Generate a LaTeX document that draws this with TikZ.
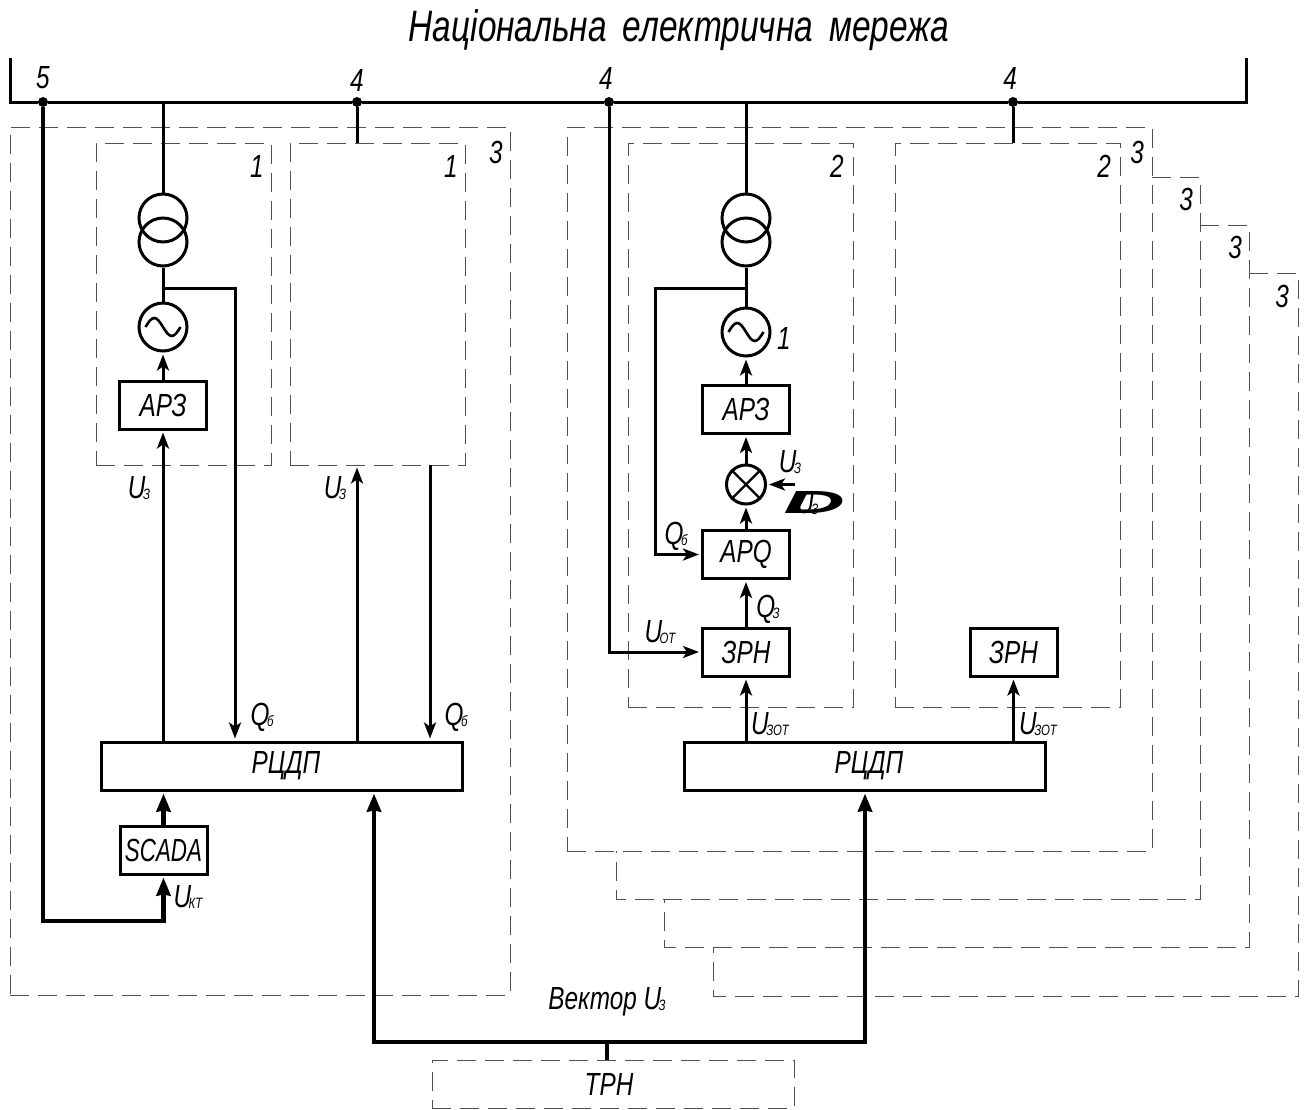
\documentclass[tikz,border=0pt]{standalone}
\usepackage{fontspec}
\usepackage{tikz}
\usetikzlibrary{arrows.meta}
\setmainfont{Liberation Sans}[FakeStretch=0.76]
\definecolor{framegray}{HTML}{505050}
\newcommand{\lblsub}[2]{#1\kern-2.5pt{\fontsize{15}{15}\selectfont\raisebox{-1pt}{#2}}}
\tikzset{
  blockbox/.style={draw, line width=3pt, minimum width=87pt, minimum height=48pt, inner sep=0pt,
    font=\fontsize{32}{32}\selectfont\itshape},
  widebox/.style={blockbox, minimum width=361pt},
  framebox/.style={draw=framegray, line width=1pt, dash pattern=on 19pt off 9pt},
  circ/.style={draw, circle, line width=3pt, minimum size=#1, inner sep=0pt},
  wire/.style={line width=3pt},
  sig/.style={wire, -{Stealth[length=16pt,width=12pt,inset=4pt]}, shorten >=2pt},
  fatsig/.style={line width=4.8pt, -{Stealth[length=18pt,width=14pt,inset=1pt]}, shorten >=2pt},
  dot/.style={circle, fill, inner sep=0pt, minimum size=10pt},
  lbl/.style={inner sep=0pt, font=\fontsize{32}{32}\selectfont\itshape}
}
\begin{document}
\begin{tikzpicture}[x=1pt,y=-1pt]
  \useasboundingbox (0,0) rectangle (1306,1109);
  % title and bus
  \node[lbl, font=\fontsize{44}{44}\selectfont\itshape] (title) at (679,30) {Національна\hspace{7pt} електрична\hspace{7pt} мережа};
  \coordinate (busleft) at (10,58);
  \coordinate (busright) at (1246,58);
  \node[dot] (tapfive) at (43,102) {};
  \node[dot] (tapa) at (357,102) {};
  \node[dot] (tapb) at (609,102) {};
  \node[dot] (tapc) at (1013,102) {};
  \draw[wire] (busleft) |- (tapfive) -- (tapa) -- (tapb) -- (tapc) -| (busright);
  \node[lbl] (lblfive) at (43,78) {5};
  \node[lbl] (lbla) at (357,80) {4};
  \node[lbl] (lblb) at (606,78) {4};
  \node[lbl] (lblc) at (1010,78) {4};
  % dashed frames
  \node[framebox, minimum width=500pt, minimum height=868pt] (plantA) at (260,561) {};
  \node[framebox, minimum width=175pt, minimum height=322pt] (unitA) at (183.5,304) {};
  \node[framebox, minimum width=175pt, minimum height=322pt] (unitB) at (377.5,304) {};
  \node[framebox, minimum width=585pt, minimum height=724pt] (plantB) at (859.5,489) {};
  \node[framebox, minimum width=225pt, minimum height=564pt] (unitC) at (740.5,425) {};
  \node[framebox, minimum width=225pt, minimum height=564pt] (unitD) at (1007.5,425) {};
  \draw[framebox] (1152,177) -- (1200,177) -- (1200,899) -- (616,899) -- (616,851);
  \draw[framebox] (1200,225) -- (1249,225) -- (1249,947) -- (664,947) -- (664,899);
  \draw[framebox] (1249,273) -- (1298,273) -- (1298,996) -- (713,996) -- (713,947);
  \node[lbl] at (257,166) {1};
  \node[lbl] at (451,166) {1};
  \node[lbl] at (496,152) {3};
  \node[lbl] at (837,166) {2};
  \node[lbl] at (1104,166) {2};
  \node[lbl] at (1137,152) {3};
  \node[lbl] at (1186,199) {3};
  \node[lbl] at (1235,247) {3};
  \node[lbl] at (1282,296) {3};
  % left plant
  \node[circ=48pt] (trAup) at (163,218) {};
  \node[circ=48pt] (trAlow) at (163,242) {};
  \node[circ=48pt] (genA) at (163,327) {};
  \draw[line width=2.6pt] (145.5,327) sin (154.25,318) cos (163,327) sin (171.75,336) cos (180.5,327);
  \node[blockbox] (arzA) at (163,405) {АРЗ};
  \node[widebox] (rcdpA) at (282,766) {\hspace*{8pt}РЦДП};
  \node[blockbox] (scada) at (163.5,850) {\scalebox{.92}[1]{SCADA}};
  \coordinate (fbA) at (235,288);
  \coordinate (fbB) at (430,465);
  \coordinate (leftcorner) at (43,921);
  \draw[wire] (tapfive -| trAup) -- (trAup.north);
  \draw[wire] (trAlow.south) -- (genA.north);
  \draw[sig] (fbA -| genA) -- (fbA) -- (rcdpA.north -| fbA);
  \draw[sig] (arzA.north) -- (genA.south);
  \draw[sig] (rcdpA.north -| arzA) -- (arzA.south);
  \draw[wire] (tapa) -- (unitB.north -| tapa);
  \draw[sig] (rcdpA.north -| tapa) -- (unitB.south -| tapa);
  \draw[sig] (fbB) -- (rcdpA.north -| fbB);
  \draw[fatsig] (scada.north) -- (rcdpA.south -| scada);
  \draw[fatsig] (tapfive) -- (leftcorner) -- (leftcorner -| scada) -- (scada.south);
  \node[lbl] at (139,488) {\lblsub{U}{З}};
  \node[lbl] at (335,488) {\lblsub{U}{З}};
  \node[lbl] at (262,717) {\lblsub{Q}{б}};
  \node[lbl] at (456,717) {\lblsub{Q}{б}};
  \node[lbl] at (188,897) {\lblsub{U}{КТ}};
  % right plant
  \node[circ=48pt] (trBup) at (746,218) {};
  \node[circ=48pt] (trBlow) at (746,242) {};
  \node[circ=48pt] (genB) at (746,332) {};
  \draw[line width=2.6pt] (728.5,332) sin (737.25,323) cos (746,332) sin (754.75,341) cos (763.5,332);
  \node[blockbox] (arzB) at (746,409.5) {АРЗ};
  \node[circ=39pt] (summer) at (746,484.5) {};
  \node[blockbox] (apq) at (746,554.5) {APQ};
  \node[blockbox] (zrnA) at (746,652) {ЗРН};
  \node[blockbox] (zrnB) at (1013.5,652) {ЗРН};
  \node[widebox] (rcdpB) at (865,766) {\hspace*{8pt}РЦДП};
  \coordinate (fbC) at (655,288);
  \coordinate (setin) at (795,484.5);
  \draw[wire] (tapb -| trBup) -- (trBup.north);
  \draw[wire] (trBlow.south) -- (genB.north);
  \draw[sig] (trBlow.south |- fbC) -- (fbC) |- (apq.west);
  \draw[sig] (arzB.north) -- (genB.south);
  \draw[sig] (summer.north) -- (arzB.south);
  \draw[sig] (apq.north) -- (summer.south);
  \draw[sig] (setin) -- (summer.east);
  \draw[sig] (zrnA.north) -- (apq.south);
  \draw[sig] (rcdpB.north -| zrnA) -- (zrnA.south);
  \draw[sig] (rcdpB.north -| zrnB) -- (zrnB.south);
  \draw[sig] (tapb) |- (zrnA.west);
  \draw[wire] (tapc) -- (unitD.north -| tapc);
  \draw[line width=2.4pt] (summer.north west) -- (summer.south east);
  \draw[line width=2.4pt] (summer.north east) -- (summer.south west);
  \node[lbl] at (784,338) {1};
  \node[lbl] at (790,462) {\lblsub{U}{З}};
  \node[lbl] at (676,536) {\lblsub{Q}{б}};
  \node[lbl] at (768,609) {\lblsub{Q}{З}};
  \node[lbl] at (660,632) {\lblsub{U}{ОТ}};
  \node[lbl] at (770,724) {\lblsub{U}{ЗОТ}};
  \node[lbl] at (1038,724) {\lblsub{U}{ЗОТ}};
  \node[lbl] (deltaU) at (814,503) {\rlap{\hspace{13pt}\lblsub{U}{З}}\scalebox{3.5}[1]{\bfseries D}};
  % common part
  \node[framebox, minimum width=362pt, minimum height=48pt] (trn) at (613,1084) {};
  \node[lbl] at (609,1084) {ТРН};
  \node[lbl] at (607,1002) {Вектор \lblsub{U}{З}};
  \coordinate (vecleft) at (374,1042);
  \coordinate (vecright) at (865,1042);
  \coordinate (vecmid) at (607,1042);
  \draw[fatsig] (vecmid) -- (vecleft) -- (rcdpA.south -| vecleft);
  \draw[fatsig] (vecmid) -- (vecright) -- (rcdpB.south -| vecright);
  \draw[line width=4.8pt] (vecmid) -- (trn.north -| vecmid);
\end{tikzpicture}
\end{document}
